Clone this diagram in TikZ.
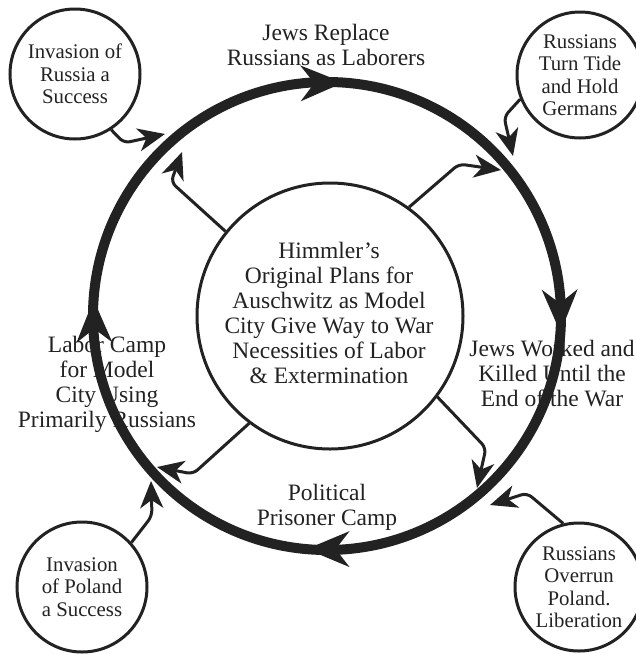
\documentclass[tikz,border=0pt]{standalone}
\usepackage{fontspec}
\setmainfont{Liberation Serif}
\usetikzlibrary{arrows.meta}
\definecolor{ink}{HTML}{222222}
\begin{document}
\begin{tikzpicture}[x=1pt,y=-1pt,
  ringline/.style={draw=ink, line width=10pt},
  conn/.style={draw=ink, line width=3pt, rounded corners=6pt, -{Stealth[length=27pt,width=23pt,inset=8pt]}},
  bubble/.style={circle, draw=ink, text=ink, line width=3pt, inner sep=0pt, minimum size=#1, align=center, font=\fontsize{20.8}{22.5}\selectfont},
  lbl/.style={align=center, inner sep=0pt, text=ink, font=\fontsize{23.5}{25}\selectfont},
  bighead/.pic={\fill[ink] (0,0) -- (-43,-18) -- (-29,0) -- (-43,18) -- cycle;}]
\useasboundingbox (0,0) rectangle (636,654);

% outer ring, flowing clockwise on screen
\coordinate (C) at (327,316);
\draw[ringline] (C) circle[radius=234];
\path (C) ++(184:234) pic[rotate=-269] {bighead};
\path (C) ++(274:234) pic[rotate=-359] {bighead};
\path (C) ++(4:234) pic[rotate=-89] {bighead};
\path (C) ++(95:234) pic[rotate=-180] {bighead};

% hub
\node[circle, draw=ink, line width=3pt, minimum size=266pt, inner sep=0pt] (hub) at (330,316) {};
\node[lbl] (hubtext) at (329,312.5) {Himmler’s\\Original Plans for\\Auschwitz as Model\\City Give Way to War\\Necessities of Labor\\\& Extermination};

% ring labels
\node[lbl] (tReplace) at (326,44.5) {Jews Replace\\Russians as Laborers};
\node[lbl] (tWorked) at (552,374) {Jews Worked and\\Killed Until the\\End of the War};
\node[lbl] (tLabor) at (107,384) {Labor Camp\\for Model\\City Using\\Primarily Russians};
\node[lbl] (tPolitical) at (327,507.5) {Political\\Prisoner Camp};

% spokes from hub
\coordinate (s1c) at (171,182);
\coordinate (s1t) at (182,152);
\coordinate (s2c) at (459,164);
\coordinate (s2t) at (501,170);
\coordinate (s3c) at (486,448);
\coordinate (s3t) at (477,488);
\coordinate (s4c) at (193,474);
\coordinate (s4t) at (157,467);
\draw[conn] (hub.141) -- (s1c) -- (s1t);
\draw[conn] (hub.54) -- (s2c) -- (s2t);
\draw[conn] (hub.-37) -- (s3c) -- (s3t);
\draw[conn] (hub.233) -- (s4c) -- (s4t);

% outer events
\node[bubble=130pt] (russia) at (75,74) {Invasion of\\Russia a\\Success};
\node[bubble=126pt] (tide) at (580,75) {Russians\\Turn Tide\\and Hold\\Germans};
\node[bubble=128pt] (overrun) at (579,587) {Russians\\Overrun\\Poland.\\Liberation};
\node[bubble=130pt] (poland) at (82,587) {Invasion\\of Poland\\a Success};

\coordinate (r1c) at (124,143);
\coordinate (r1t) at (165,134);
\coordinate (r2c) at (504,117);
\coordinate (r2t) at (513,156);
\coordinate (r3c) at (527,493);
\coordinate (r3t) at (490,505);
\coordinate (r4c) at (152,516);
\coordinate (r4t) at (151,481);
\draw[conn] (russia.-57) -- (r1c) -- (r1t);
\draw[conn] (tide.202) -- (r2c) -- (r2t);
\draw[conn] (overrun.104) -- (r3c) -- (r3t);
\draw[conn] (poland.42) -- (r4c) -- (r4t);
\end{tikzpicture}
\end{document}
